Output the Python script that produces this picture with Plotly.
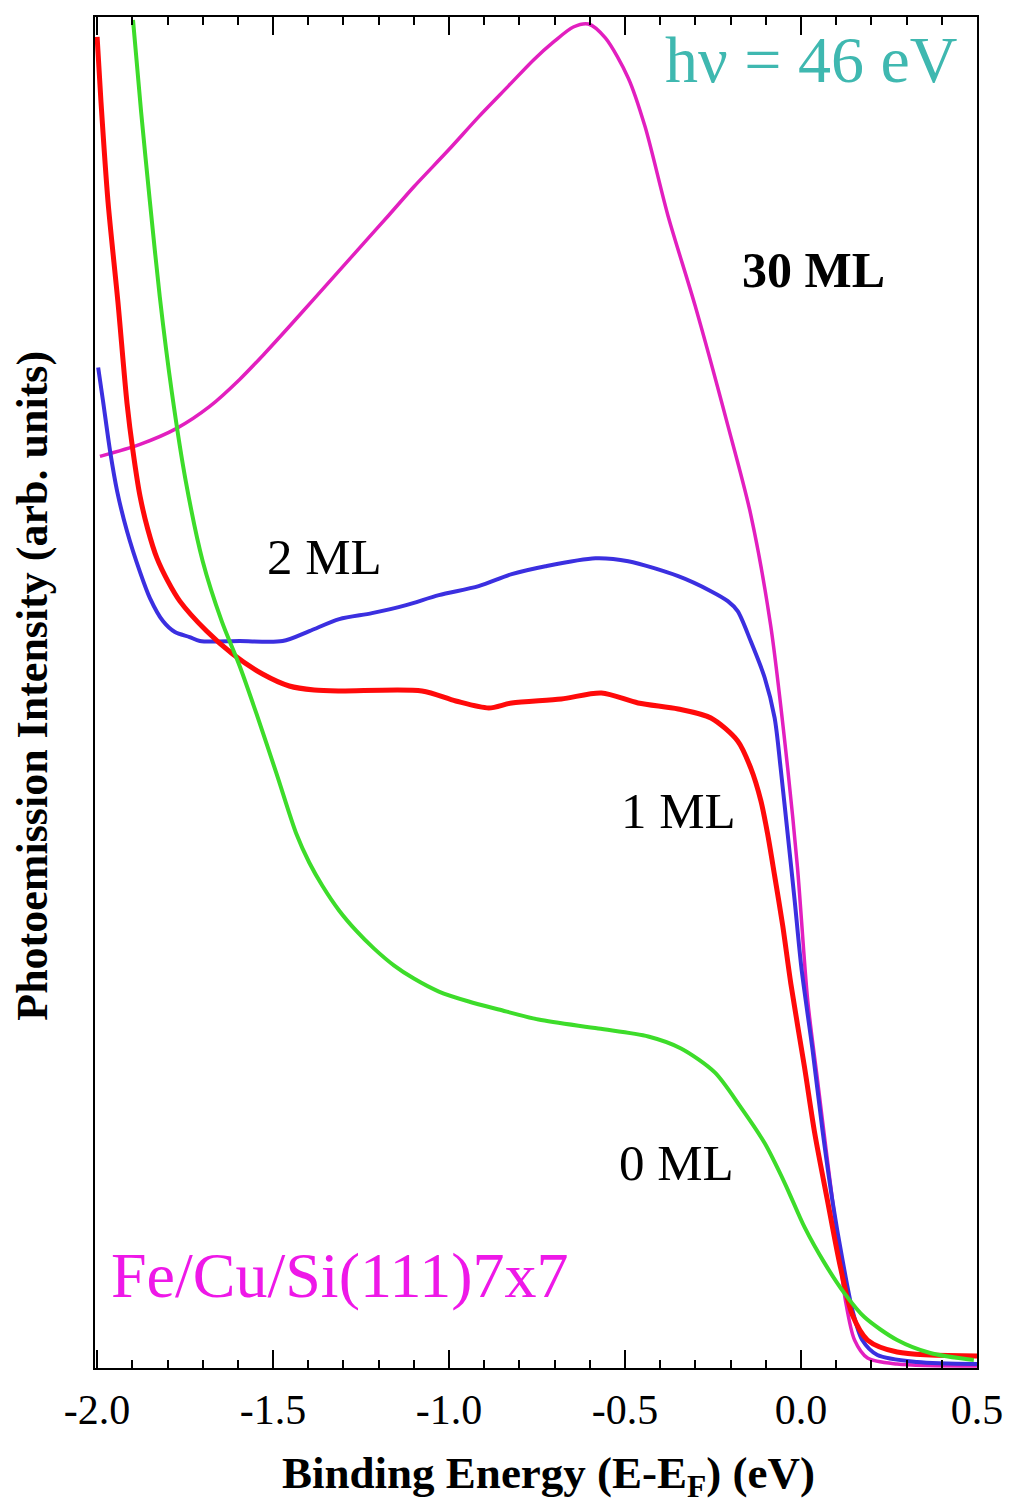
import plotly.graph_objects as go

# ---- data ----
energy_0ML = [-1.898, -1.875, -1.850, -1.822, -1.788, -1.748, -1.700, -1.646, -1.595, -1.547,
              -1.490, -1.434, -1.397, -1.360, -1.312, -1.264, -1.213, -1.156, -1.100, -1.029,
              -0.944, -0.859, -0.746, -0.576, -0.434, -0.341, -0.245, -0.171, -0.103, -0.046,
              0.010, 0.067, 0.123, 0.180, 0.273, 0.367, 0.491]
intensity_0ML = [135.0, 125.8, 116.8, 107.3, 97.8, 88.8, 80.8, 74.8, 70.3, 65.5,
                 59.5, 53.5, 50.6, 48.3, 45.8, 43.8, 42.0, 40.3, 39.0, 37.7,
                 36.7, 35.9, 34.9, 34.0, 33.2, 32.0, 29.6, 26.1, 22.5, 18.5,
                 14.1, 10.5, 7.5, 5.1, 2.8, 1.5, 0.8]

energy_1ML = [-2.000, -1.989, -1.969, -1.941, -1.915, -1.898, -1.878, -1.856, -1.830, -1.799,
              -1.765, -1.689, -1.615, -1.530, -1.454, -1.383, -1.312, -1.077, -0.981, -0.887,
              -0.822, -0.681, -0.567, -0.463, -0.349, -0.256, -0.180, -0.143, -0.114, -0.095,
              -0.075, -0.052, -0.029, 0.010, 0.039, 0.075, 0.112, 0.146, 0.189, 0.273,
              0.500]
intensity_1ML = [133.3, 126.8, 116.8, 106.8, 96.6, 91.8, 87.3, 84.0, 81.1, 78.8,
                 76.8, 73.8, 71.5, 69.5, 68.3, 67.9, 67.8, 67.8, 66.8, 66.1,
                 66.6, 67.0, 67.6, 66.6, 66.0, 65.1, 62.8, 60.1, 56.8, 53.5,
                 49.3, 44.3, 38.5, 30.1, 23.5, 16.8, 10.1, 5.3, 2.8, 1.6,
                 1.2]

energy_2ML = [-1.997, -1.983, -1.963, -1.943, -1.915, -1.878, -1.850, -1.813, -1.779, -1.737,
              -1.708, -1.595, -1.473, -1.397, -1.312, -1.219, -1.122, -1.029, -0.916, -0.822,
              -0.726, -0.584, -0.491, -0.349, -0.256, -0.208, -0.180, -0.143, -0.103, -0.075,
              -0.058, -0.038, -0.018, 0.001, 0.033, 0.061, 0.089, 0.118, 0.146, 0.174,
              0.217, 0.330, 0.500]
intensity_2ML = [100.2, 96.8, 91.8, 87.8, 83.8, 79.7, 77.1, 74.8, 73.7, 73.2,
                 72.8, 72.8, 72.8, 73.8, 75.0, 75.6, 76.4, 77.4, 78.3, 79.5,
                 80.3, 81.1, 80.8, 79.3, 77.8, 76.8, 75.8, 72.8, 69.1, 65.1,
                 60.1, 53.5, 46.8, 40.1, 31.8, 23.8, 16.8, 10.8, 5.8, 2.8,
                 1.3, 0.6, 0.4]

energy_30ML = [-1.992, -1.878, -1.774, -1.680, -1.595, -1.524, -1.454, -1.383, -1.312, -1.241,
               -1.170, -1.100, -1.001, -0.916, -0.831, -0.760, -0.703, -0.647, -0.604, -0.556,
               -0.491, -0.443, -0.378, -0.301, -0.208, -0.143, -0.086, -0.038, -0.010, 0.019,
               0.047, 0.075, 0.104, 0.126, 0.152, 0.189, 0.273, 0.500]
intensity_30ML = [91.3, 92.5, 94.1, 96.3, 99.0, 101.6, 104.3, 107.1, 109.9, 112.7,
                  115.5, 118.3, 122.0, 125.3, 128.4, 131.0, 132.8, 134.3, 134.6, 133.2,
                  129.2, 124.3, 115.4, 106.4, 94.4, 85.5, 74.3, 60.1, 50.1, 36.8,
                  28.8, 20.8, 12.8, 6.8, 2.8, 1.0, 0.4, 0.2]

tick_values = [-2.0, -1.5, -1.0, -0.5, 0.0, 0.5]
tick_labels = ["-2.0", "-1.5", "-1.0", "-0.5", "0.0", "0.5"]

series = [
    ("30 ML", energy_30ML, intensity_30ML, "#e21fbf", 3.5),
    ("2 ML", energy_2ML, intensity_2ML, "#3b2fe0", 4),
    ("1 ML", energy_1ML, intensity_1ML, "#ff0a0a", 5),
    ("0 ML", energy_0ML, intensity_0ML, "#3ddc2a", 4),
]

SERIF = "Liberation Serif, Times New Roman, serif"

fig = go.Figure()
for name, xs, ys, color, width in series:
    fig.add_trace(go.Scatter(x=xs, y=ys, mode="lines", name=name,
                             line=dict(color=color, width=width, shape="spline", smoothing=0.8),
                             showlegend=False))

# page body has an 8px margin, so the figure is sized/placed to compensate
fig.update_layout(
    width=1002, height=1496,
    margin=dict(l=87, r=30, t=7, b=136),
    paper_bgcolor="white", plot_bgcolor="white",
    font=dict(family=SERIF, color="black"),
)

fig.update_xaxes(
    range=[-2.006, 0.5],
    tickvals=tick_values, ticktext=tick_labels,
    ticks="inside", ticklen=18, tickwidth=1.5, tickcolor="black",
    minor=dict(ticks="inside", ticklen=8, tickwidth=1.5, tickcolor="black", dtick=0.1, showgrid=False),
    showline=True, linecolor="black", linewidth=2, mirror="allticks",
    showgrid=False, zeroline=False,
    tickfont=dict(family=SERIF, size=42, color="black"),
    ticklabelstandoff=4,
)
fig.update_yaxes(
    range=[0, 135.3],
    showticklabels=False, ticks="",
    showline=True, linecolor="black", linewidth=2, mirror=True,
    showgrid=False, zeroline=False,
)

ann = [
    dict(text="<b>30 ML</b>", x=0.036, y=110.0, color="black", size=50),
    dict(text="2 ML", x=-1.354, y=81.2, color="black", size=51),
    dict(text="1 ML", x=-0.349, y=55.8, color="black", size=51),
    dict(text="0 ML", x=-0.355, y=20.5, color="black", size=51),
    dict(text="hν = 46 eV", x=0.030, y=131.0, color="#3fb8b0", size=66),
    dict(text="Fe/Cu/Si(111)7x7", x=-1.310, y=9.3, color="#ee18e8", size=64),
]
for a in ann:
    fig.add_annotation(x=a["x"], y=a["y"], xref="x", yref="y", text=a["text"], showarrow=False,
                       font=dict(family=SERIF, size=a["size"], color=a["color"]),
                       xanchor="center", yanchor="middle")

fig.add_annotation(text="<b>Photoemission Intensity (arb. units)</b>", xref="paper", yref="paper",
                   x=0, y=0.505, xshift=-62, textangle=-90, showarrow=False,
                   font=dict(family=SERIF, size=44, color="black"), xanchor="center", yanchor="middle")
fig.add_annotation(text="<b>Binding Energy (E-E<sub>F</sub>) (eV)</b>", xref="paper", yref="paper",
                   x=0.514, y=0, yshift=-108, showarrow=False,
                   font=dict(family=SERIF, size=45, color="black"), xanchor="center", yanchor="middle")

fig.write_html("out.html")
